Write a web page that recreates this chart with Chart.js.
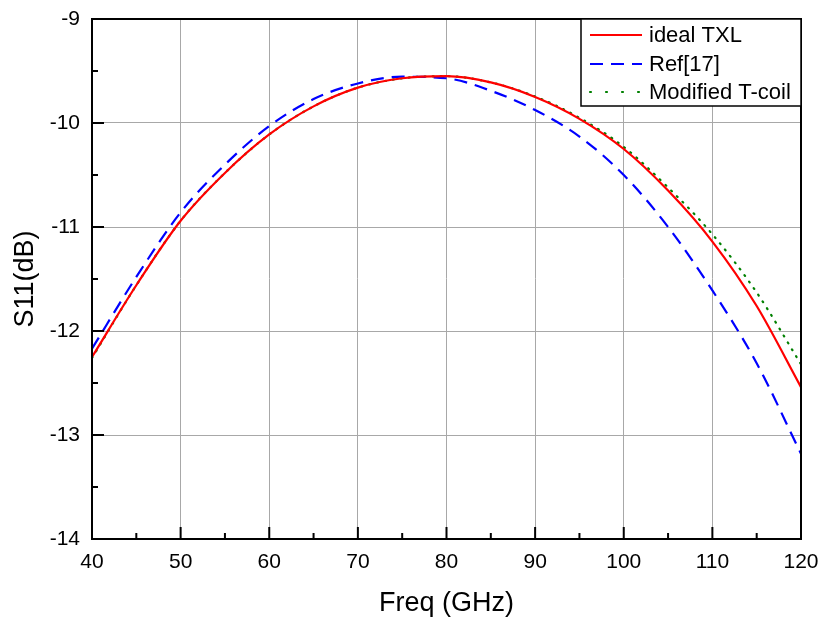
<!DOCTYPE html>
<html>
<head>
<meta charset="utf-8">
<script src="https://cdn.jsdelivr.net/npm/chart.js@4.4.0/dist/chart.umd.min.js"></script>
<style>
    html, body { margin: 0; padding: 0; background: #fff; }
    canvas { display: block; }
</style>
</head>
<body>
<canvas id="s11Chart" width="824" height="621"></canvas>
<script>
// Frequency points (GHz)
var freq = [40, 45, 50, 55, 60, 65, 70, 75, 80, 85, 90, 95, 100, 105, 110, 115, 120];

// S11 (dB) for each curve
var idealTxl = [-12.25, -11.56, -10.94, -10.48, -10.11, -9.84, -9.66, -9.57, -9.55, -9.61, -9.75, -9.96, -10.25, -10.65, -11.14, -11.76, -12.54];
var ref17 = [-12.17, -11.48, -10.86, -10.40, -10.03, -9.77, -9.62, -9.555, -9.57, -9.69, -9.875, -10.13, -10.50, -11.00, -11.61, -12.31, -13.18];
var modifiedTcoil = [-12.26, -11.56, -10.94, -10.48, -10.11, -9.84, -9.66, -9.57, -9.55, -9.61, -9.745, -9.95, -10.23, -10.62, -11.07, -11.63, -12.32];

// Tick labels
var xTicks = [40, 50, 60, 70, 80, 90, 100, 110, 120];
var yTicks = [-14, -13, -12, -11, -10, -9];

var fontFamily = "'Liberation Sans', Arial, sans-serif";

function toPoints(values) {
    return freq.map(function (f, i) { return { x: f, y: values[i] }; });
}

// minor ticks sit halfway between the major ones
function midpoints(arr) {
    var out = [];
    for (var i = 0; i < arr.length - 1; i++) {
        out.push((arr[i] + arr[i + 1]) / 2);
    }
    return out;
}

// Frame round the plot plus inward-pointing tick marks
var framePlugin = {
    id: 'frame',
    afterDatasetsDraw: function (chart) {
        var ctx = chart.ctx;
        var a = chart.chartArea;
        var xs = chart.scales.x;
        var ys = chart.scales.y;
        ctx.save();
        ctx.strokeStyle = '#000';
        ctx.lineWidth = 2;
        ctx.strokeRect(a.left, a.top, a.right - a.left, a.bottom - a.top);

        ctx.beginPath();
        xTicks.forEach(function (v) {
            var px = xs.getPixelForValue(v);
            ctx.moveTo(px, a.bottom);
            ctx.lineTo(px, a.bottom - 12);
        });
        midpoints(xTicks).forEach(function (v) {
            var px = xs.getPixelForValue(v);
            ctx.moveTo(px, a.bottom);
            ctx.lineTo(px, a.bottom - 6);
        });
        yTicks.forEach(function (v) {
            var py = ys.getPixelForValue(v);
            ctx.moveTo(a.left, py);
            ctx.lineTo(a.left + 12, py);
        });
        midpoints(yTicks).forEach(function (v) {
            var py = ys.getPixelForValue(v);
            ctx.moveTo(a.left, py);
            ctx.lineTo(a.left + 6, py);
        });
        ctx.stroke();
        ctx.restore();
    }
};

// Boxed legend in the top right corner of the plot
var legendPlugin = {
    id: 'boxLegend',
    afterDraw: function (chart) {
        var ctx = chart.ctx;
        var a = chart.chartArea;
        var boxLeft = 581, boxTop = a.top, boxRight = a.right, boxBottom = 106;
        ctx.save();
        ctx.fillStyle = '#fff';
        ctx.fillRect(boxLeft, boxTop, boxRight - boxLeft, boxBottom - boxTop);
        ctx.strokeStyle = '#000';
        ctx.lineWidth = 1.5;
        ctx.strokeRect(boxLeft, boxTop, boxRight - boxLeft, boxBottom - boxTop);

        var rows = [35, 64, 92];
        chart.data.datasets.forEach(function (ds, i) {
            var y = rows[i];
            ctx.beginPath();
            ctx.strokeStyle = ds.borderColor;
            ctx.lineWidth = ds.borderWidth;
            ctx.lineCap = ds.borderCapStyle || 'butt';
            ctx.setLineDash(ds.legendDash || ds.borderDash || []);
            ctx.moveTo(590, y);
            ctx.lineTo(642, y);
            ctx.stroke();
            ctx.setLineDash([]);
            ctx.fillStyle = '#000';
            ctx.font = '22px ' + fontFamily;
            ctx.textBaseline = 'middle';
            ctx.textAlign = 'left';
            ctx.fillText(ds.label, 649, y + 1);
        });
        ctx.restore();
    }
};

var ctx = document.getElementById("s11Chart").getContext("2d");
var chart = new Chart(ctx, {
    type: "line",
    data: {
        datasets: [
            {
                label: "ideal TXL",
                data: toPoints(idealTxl),
                borderColor: "#ff0000",
                borderWidth: 2.2,
                pointRadius: 0,
                cubicInterpolationMode: "monotone"
            },
            {
                label: "Ref[17]",
                data: toPoints(ref17),
                borderColor: "#0000ff",
                borderWidth: 2.2,
                borderDash: [13, 8],
                pointRadius: 0,
                cubicInterpolationMode: "monotone"
            },
            {
                label: "Modified T-coil",
                data: toPoints(modifiedTcoil),
                borderColor: "#008000",
                borderWidth: 2.2,
                borderDash: [1, 7],
                legendDash: [1, 15],
                borderCapStyle: "round",
                pointRadius: 0,
                cubicInterpolationMode: "monotone"
            }
        ]
    },
    options: {
        responsive: false,
        animation: false,
        devicePixelRatio: 1,
        layout: {
            padding: { left: 0, top: 19, right: 23, bottom: 0 }
        },
        plugins: {
            legend: { display: false },
            tooltip: { enabled: false }
        },
        scales: {
            x: {
                type: "linear",
                min: 40,
                max: 120,
                afterBuildTicks: function (scale) {
                    scale.ticks = xTicks.map(function (v) { return { value: v }; });
                },
                afterFit: function (scale) {
                    scale.height = 82;
                    scale.paddingLeft = 0;
                    scale.paddingRight = 0;
                },
                grid: { color: "#a8a8a8", lineWidth: 1, drawTicks: false },
                border: { display: true, color: "#000", width: 2 },
                ticks: {
                    padding: 11,
                    color: "#000",
                    maxRotation: 0,
                    font: { family: fontFamily, size: 21 }
                },
                title: {
                    display: true,
                    text: "Freq (GHz)",
                    color: "#000",
                    padding: { top: 0, bottom: 1 },
                    font: { family: fontFamily, size: 27 }
                }
            },
            y: {
                min: -14,
                max: -9,
                afterBuildTicks: function (scale) {
                    scale.ticks = yTicks.map(function (v) { return { value: v }; });
                },
                afterFit: function (scale) {
                    scale.width = 92;
                    scale.paddingTop = 0;
                    scale.paddingBottom = 0;
                },
                grid: { color: "#a8a8a8", lineWidth: 1, drawTicks: false },
                border: { display: true, color: "#000", width: 2 },
                ticks: {
                    padding: 12,
                    color: "#000",
                    font: { family: fontFamily, size: 21 }
                },
                title: {
                    display: true,
                    text: "S11(dB)",
                    color: "#000",
                    padding: { top: 9, bottom: 0 },
                    font: { family: fontFamily, size: 27 }
                }
            }
        }
    },
    plugins: [framePlugin, legendPlugin]
});
</script>
</body>
</html>
